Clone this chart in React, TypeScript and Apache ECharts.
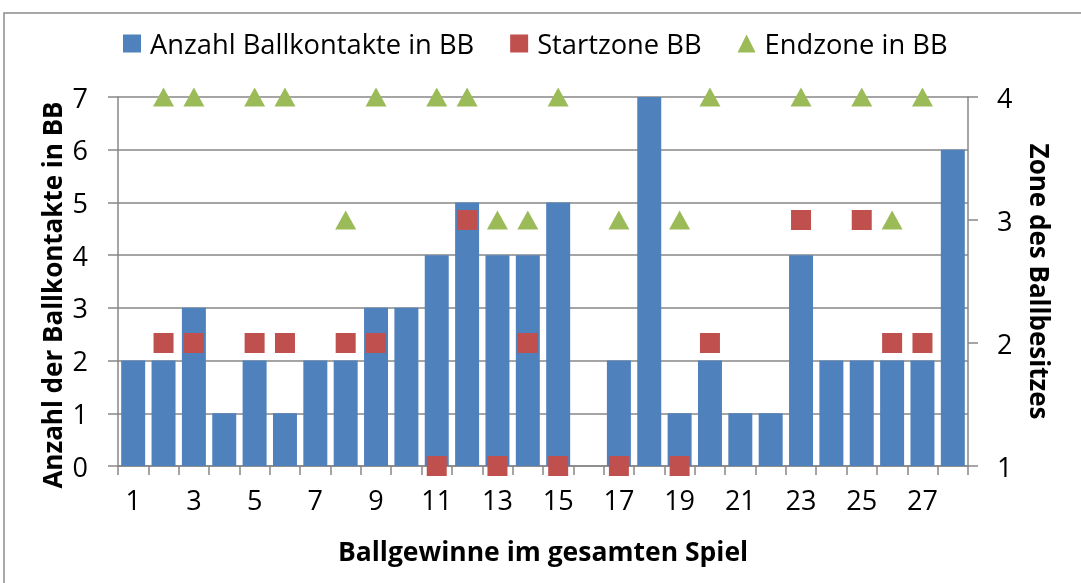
import React, { useEffect, useRef } from "react";
import * as echarts from "echarts";

const categories: string[] = Array.from({ length: 28 }, (_, i) => String(i + 1));
const ballkontakte: number[] = [2, 2, 3, 1, 2, 1, 2, 2, 3, 3, 4, 5, 4, 4, 5, 0, 2, 7, 1, 2, 1, 1, 4, 2, 2, 2, 2, 6];
const startzone: (number | null)[] = [null, 2, 2, null, 2, 2, null, 2, 2, null, 1, 3, 1, 2, 1, null, 1, null, 1, 2, null, null, 3, null, 3, 2, 2, null];
const endzone: (number | null)[] = [null, 4, 4, null, 4, 4, null, 3, 4, null, 4, 4, 3, 3, 4, null, 3, null, 3, 4, null, null, 4, null, 4, 3, 4, null];

const leftTitle = "Anzahl der Ballkontakte in BB";
const rightTitle = "Zone des Ballbesitzes";
const bottomTitle = "Ballgewinne im gesamten Spiel";

const FONT = "'Open Sans', sans-serif";

export default function App() {
  const ref = useRef<HTMLDivElement>(null);
  useEffect(() => {
    document.body.style.margin = "0";
    const chart = echarts.init(ref.current!, undefined, { renderer: "svg" });
    const grey = "#878787";
    chart.setOption({
      animation: false,
      textStyle: { fontFamily: FONT },
      legend: {
        top: 25,
        left: 118,
        itemWidth: 18,
        itemHeight: 18,
        itemGap: 36,
        textStyle: { fontSize: 27.3, color: "#000", fontFamily: FONT, padding: [0, 0, 0, 4] },
        data: [
          { name: "Anzahl Ballkontakte in BB", icon: "rect" },
          { name: "Startzone BB", icon: "rect" },
          { name: "Endzone in BB", icon: "triangle" },
        ],
      },
      grid: { left: 118, right: 113, top: 97, bottom: 117 },
      xAxis: {
        type: "category",
        data: categories,
        axisLine: { lineStyle: { color: grey, width: 1.5 } },
        axisTick: { show: true, interval: 0, length: 9, lineStyle: { color: grey, width: 1.5 } },
        axisLabel: { interval: 1, fontSize: 27, color: "#000", margin: 20, fontFamily: FONT },
        name: bottomTitle,
        nameLocation: "middle",
        nameGap: 71,
        nameTextStyle: { fontSize: 26.5, fontWeight: "bold", color: "#000", fontFamily: FONT },
      },
      yAxis: [
        {
          type: "value",
          min: 0,
          max: 7,
          interval: 1,
          axisLine: { show: true, lineStyle: { color: grey, width: 1.5 } },
          axisTick: { show: true, length: 10, lineStyle: { color: grey, width: 1.5 } },
          axisLabel: { fontSize: 27, color: "#000", margin: 30, fontFamily: FONT },
          splitLine: { lineStyle: { color: grey, width: 1.5 } },
        },
        {
          type: "value",
          position: "right",
          min: 1,
          max: 4,
          interval: 1,
          axisLine: { show: true, lineStyle: { color: grey, width: 1.5 } },
          axisTick: { show: true, length: 10, lineStyle: { color: grey, width: 1.5 } },
          axisLabel: { fontSize: 27, color: "#000", margin: 29, fontFamily: FONT },
          splitLine: { show: false },
          name: rightTitle,
          nameLocation: "middle",
          nameGap: 59,
          nameRotate: -90,
          nameTextStyle: { fontSize: 26, fontWeight: "bold", color: "#000", fontFamily: FONT },
        },
      ],
      series: [
        {
          name: "Anzahl Ballkontakte in BB",
          type: "bar",
          data: ballkontakte,
          barCategoryGap: "21%",
          itemStyle: { color: "#4F81BD" },
        },
        {
          name: "Startzone BB",
          type: "scatter",
          yAxisIndex: 1,
          symbol: "rect",
          symbolSize: 20,
          clip: false,
          data: startzone.map((v) => (v === null ? "-" : v)),
          itemStyle: { color: "#C0504D", opacity: 1 },
          z: 4,
        },
        {
          name: "Endzone in BB",
          type: "scatter",
          yAxisIndex: 1,
          symbol: "triangle",
          symbolSize: [21, 19],
          clip: false,
          data: endzone.map((v) => (v === null ? "-" : v)),
          itemStyle: { color: "#9BBB59", opacity: 1 },
          z: 5,
        },
      ],
      graphic: [
        {
          type: "rect",
          silent: true,
          shape: { x: 4, y: 13, width: 1200, height: 700 },
          style: { fill: "none", stroke: "#8c8c8c", lineWidth: 1.5 },
        },
        {
          type: "text",
          silent: true,
          x: 52,
          y: 295,
          rotation: Math.PI / 2,
          style: {
            text: leftTitle,
            fontSize: 26,
            fontWeight: "bold",
            fontFamily: FONT,
            fill: "#000",
            align: "center",
            verticalAlign: "middle",
          },
        },
      ],
    });
    return () => chart.dispose();
  }, []);
  return <div ref={ref} style={{ position: "fixed", left: 0, top: 0, width: 1081, height: 583 }} />;
}
